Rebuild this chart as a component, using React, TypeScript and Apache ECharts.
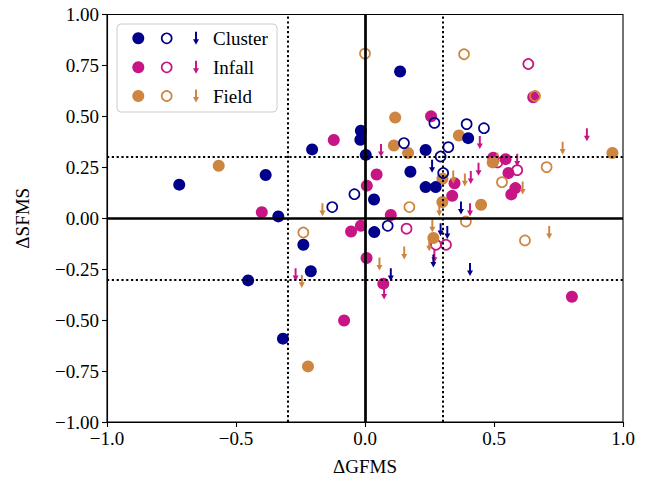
import React, { useEffect, useRef } from "react";
import * as echarts from "echarts";

type P = [number, number];

const xTicks = [-1, -0.5, 0, 0.5, 1];
const yTicks = [-1, -0.75, -0.5, -0.25, 0, 0.25, 0.5, 0.75, 1];
const groupNames = ["Cluster", "Infall", "Field"];
const groupColors = ["#00008B", "#C71585", "#CD853F"];

const clusterFilled: P[] = [
  [0.136, 0.72], [-0.016, 0.43], [-0.018, 0.385], [0.003, 0.311], [-0.205, 0.338],
  [-0.72, 0.165], [-0.385, 0.212], [-0.336, 0.009], [-0.453, -0.305], [-0.318, -0.591],
  [-0.21, -0.26], [-0.239, -0.13], [0.036, -0.068], [0.035, 0.092], [0.176, 0.228],
  [0.235, 0.335], [0.235, 0.153], [0.274, 0.153], [0.4, 0.393],
];
const clusterOpen: P[] = [
  [0.151, 0.369], [0.269, 0.468], [0.394, 0.462], [0.461, 0.442], [0.323, 0.349],
  [0.293, 0.303], [0.303, 0.222], [-0.041, 0.118], [-0.127, 0.055], [0.088, -0.037],
];
const clusterLimit: P[] = [
  [0.26, 0.255], [0.372, 0.05], [0.293, -0.056], [0.319, -0.07], [0.1, -0.277],
  [0.407, -0.252], [0.265, -0.21],
];

const infallFilled: P[] = [
  [0.256, 0.5], [-0.121, 0.384], [0.045, 0.215], [0.007, 0.16], [-0.4, 0.03],
  [0.1, 0.016], [-0.016, -0.037], [-0.054, -0.065], [0.006, -0.195], [0.071, -0.321],
  [-0.081, -0.502], [0.802, -0.385], [0.652, 0.594], [0.497, 0.297], [0.545, 0.29],
  [0.556, 0.222], [0.583, 0.148], [0.567, 0.117], [0.338, 0.11], [0.347, 0.172],
];
const infallOpen: P[] = [
  [0.633, 0.757], [0.59, 0.236], [0.161, -0.051], [0.275, -0.13], [0.314, -0.13],
  [0.513, 0.274],
];
const infallLimit: P[] = [
  [0.062, 0.332], [0.445, 0.372], [0.44, 0.24], [0.41, 0.2], [0.59, 0.285],
  [0.86, 0.41], [0.407, 0.042], [0.269, -0.187], [-0.269, -0.277], [0.074, -0.367],
];

const fieldFilled: P[] = [
  [0.117, 0.494], [0.112, 0.357], [0.167, 0.32], [0.364, 0.406], [-0.567, 0.258],
  [0.3, 0.194], [0.3, 0.08], [0.495, 0.274], [0.45, 0.066], [0.959, 0.32],
  [0.265, -0.097], [-0.221, -0.727],
];
const fieldOpen: P[] = [
  [0.0, 0.808], [0.384, 0.805], [0.659, 0.6], [0.704, 0.251], [0.531, 0.177],
  [0.172, 0.055], [0.391, -0.016], [0.62, -0.109], [-0.239, -0.07],
];
const fieldLimit: P[] = [
  [0.766, 0.344], [0.513, 0.29], [0.342, 0.203], [0.387, 0.188], [0.611, 0.148],
  [0.714, -0.07], [0.288, 0.042], [-0.165, 0.042], [0.261, -0.037], [0.249, -0.13],
  [0.152, -0.171], [0.056, -0.225], [-0.245, -0.31],
];

const limits = { solid: [0], dotted: [-0.3, 0.3] };

const FONT = "'Liberation Serif', 'Times New Roman', serif";
const ARROW_PTS: P[] = [[2.7, 0], [5.3, 0], [5.3, 8], [8, 8], [4, 14], [0, 8], [2.7, 8]];
const ARROW_PATH =
  "path://" + ARROW_PTS.map((p, i) => (i ? "L" : "M") + p[0] + "," + p[1]).join(" ") + " Z";
const ARROW_W = 6;
const ARROW_H = 13;

function filled(name: string, data: P[], color: string, z: number) {
  return {
    type: "scatter", name, data, symbol: "circle", symbolSize: 12, z,
    itemStyle: { color, opacity: 1 },
  };
}
function open(name: string, data: P[], color: string, z: number) {
  return {
    type: "scatter", name, data, symbol: "circle", symbolSize: 10, z,
    itemStyle: { color: "rgba(0,0,0,0)", borderColor: color, borderWidth: 1.7, opacity: 1 },
  };
}
function limit(name: string, data: P[], color: string, z: number) {
  return {
    type: "scatter", name, data, symbol: ARROW_PATH, symbolSize: [ARROW_W, ARROW_H], z,
    itemStyle: { color, opacity: 1 },
  };
}

function fmt(v: number, d: number) {
  const s = (Math.abs(v) < 1e-9 ? 0 : v).toFixed(d);
  return s.replace("-", "\u2212");
}

export default function App() {
  const ref = useRef<HTMLDivElement>(null);
  useEffect(() => {
    if (!ref.current) return;
    const chart = echarts.init(ref.current, undefined, { renderer: "svg" });

    const legendX = 117, legendY = 24, rowYs = [38.3, 67.3, 96];
    const legendGraphics: any[] = [
      {
        type: "rect", shape: { x: legendX, y: legendY, width: 160, height: 88, r: 4 },
        style: { fill: "rgba(255,255,255,0.8)", stroke: "#cccccc", lineWidth: 1 }, z: 100,
      },
    ];
    groupNames.forEach((nm, i) => {
      const cy = rowYs[i];
      const c = groupColors[i];
      legendGraphics.push(
        { type: "circle", shape: { cx: 138.3, cy, r: 6 }, style: { fill: c }, z: 101 },
        { type: "circle", shape: { cx: 166.7, cy, r: 5 }, style: { fill: "none", stroke: c, lineWidth: 1.7 }, z: 101 },
        {
          type: "polygon", z: 101,
          shape: { points: ARROW_PTS.map((p) => [196 - ARROW_W / 2 + (p[0] * ARROW_W) / 8, cy - ARROW_H / 2 + (p[1] * ARROW_H) / 14]) },
          style: { fill: c },
        },
        {
          type: "text", x: 213, y: cy, z: 101,
          style: { text: nm, font: `19px ${FONT}`, fill: "#000", textVerticalAlign: "middle", verticalAlign: "middle" },
        }
      );
    });

    const option: any = {
      animation: false,
      backgroundColor: "#fff",
      grid: { left: 107, right: 36, top: 14.5, bottom: 58.5, show: true, borderColor: "#000", borderWidth: 1.1, backgroundColor: "transparent" },
      xAxis: {
        type: "value", min: -1, max: 1, interval: 0.5,
        name: "\u0394GFMS", nameLocation: "middle", nameGap: 35,
        nameTextStyle: { fontFamily: FONT, fontSize: 19, color: "#000" },
        axisLine: { show: true, onZero: false, lineStyle: { color: "#000", width: 1.1 } },
        axisTick: { show: true, inside: false, length: 5, lineStyle: { color: "#000", width: 1.1 } },
        axisLabel: { margin: 7, fontFamily: FONT, fontSize: 19, color: "#000", formatter: (v: number) => fmt(v, 1), customValues: xTicks },
        splitLine: { show: false },
      },
      yAxis: {
        type: "value", min: -1, max: 1, interval: 0.25,
        name: "\u0394SFMS", nameLocation: "middle", nameGap: 75,
        nameTextStyle: { fontFamily: FONT, fontSize: 19, color: "#000" },
        axisLine: { show: true, onZero: false, lineStyle: { color: "#000", width: 1.1 } },
        axisTick: { show: true, inside: false, length: 5, lineStyle: { color: "#000", width: 1.1 } },
        axisLabel: { margin: 8, fontFamily: FONT, fontSize: 19, color: "#000", formatter: (v: number) => fmt(v, 2), customValues: yTicks },
        splitLine: { show: false },
      },
      graphic: legendGraphics,
      series: [
        {
          type: "scatter", name: "refs", data: [], z: 1, silent: true,
          markLine: {
            silent: true, symbol: ["none", "none"], label: { show: false }, animation: false,
            data: [
              ...limits.solid.map((v) => ({ xAxis: v, lineStyle: { color: "#000", width: 2.7, type: "solid" } })),
              ...limits.solid.map((v) => ({ yAxis: v, lineStyle: { color: "#000", width: 2.7, type: "solid" } })),
              ...limits.dotted.map((v) => ({ xAxis: v, lineStyle: { color: "#000", width: 2, type: [2.2, 2.6] } })),
              ...limits.dotted.map((v) => ({ yAxis: v, lineStyle: { color: "#000", width: 2, type: [2.2, 2.6] } })),
            ],
          },
        },
        filled("Infall", infallFilled, groupColors[1], 2),
        open("Infall open", infallOpen, groupColors[1], 2),
        limit("Infall limit", infallLimit, groupColors[1], 2),
        filled("Field", fieldFilled, groupColors[2], 3),
        open("Field open", fieldOpen, groupColors[2], 3),
        limit("Field limit", fieldLimit, groupColors[2], 3),
        filled("Cluster", clusterFilled, groupColors[0], 4),
        open("Cluster open", clusterOpen, groupColors[0], 4),
        limit("Cluster limit", clusterLimit, groupColors[0], 4),
      ],
    };
    chart.setOption(option);
    return () => chart.dispose();
  }, []);
  return (
    <div
      ref={ref}
      style={{ position: "absolute", left: 0, top: 0, width: 659, height: 481, background: "#fff" }}
    />
  );
}
